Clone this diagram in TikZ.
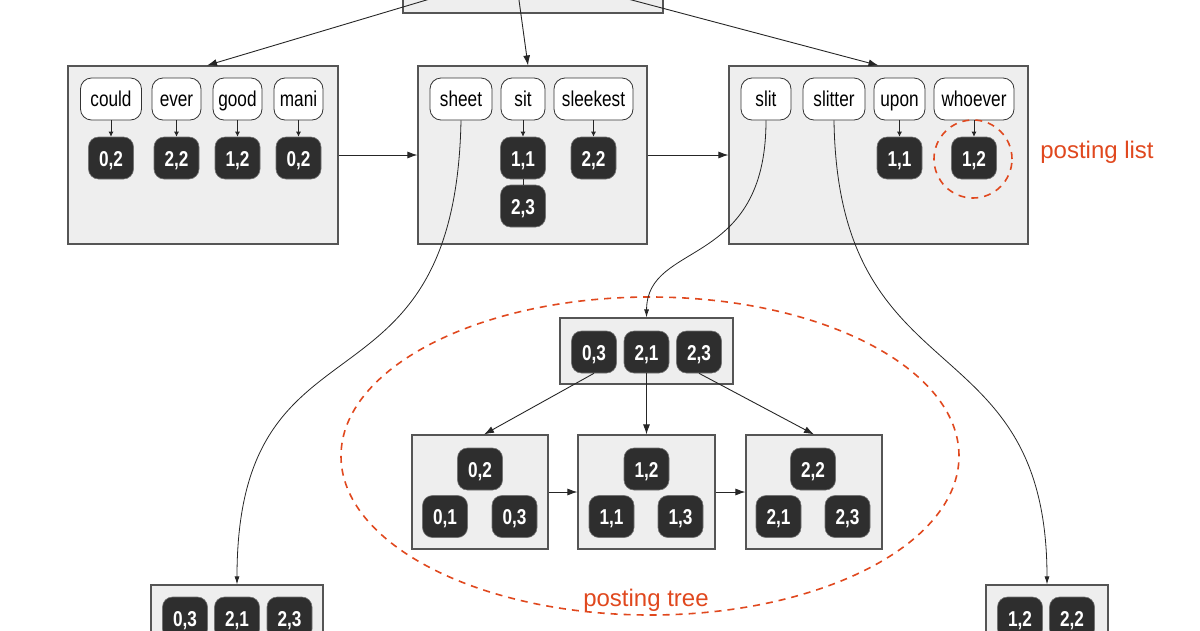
\documentclass[tikz,border=0pt]{standalone}
\usepackage{fontspec}
\setmainfont{Liberation Sans}
\newfontfamily\narrow{Liberation Sans}[FakeStretch=0.8]
\usetikzlibrary{arrows.meta,shapes.geometric}
\definecolor{boxfill}{HTML}{EEEEEE}
\definecolor{boxline}{HTML}{555555}
\definecolor{pfill}{HTML}{2E2E2E}
\definecolor{accent}{HTML}{E0481E}
\begin{document}
\begin{tikzpicture}[x=1pt,y=-1pt,
  pbox/.style={draw=boxline, fill=boxfill, line width=1.1pt, inner sep=0pt},
  keybox/.style={draw=black!80, fill=white, rounded corners=11pt, line width=0.8pt, inner sep=0pt, minimum height=42pt, text height=17pt, text depth=3pt, font=\narrow\fontsize{21.5}{24}\selectfont},
  post/.style={fill=pfill, draw=black!55, line width=0.6pt, rounded corners=10pt, inner sep=0pt, minimum width=45pt, minimum height=42pt, text height=18pt, text depth=2pt, text=white, font=\narrow\bfseries\fontsize{21.5}{24}\selectfont},
  conn/.style={draw=black!85, line width=0.9pt, -{Latex[length=10pt,width=7pt]}},
  smallconn/.style={draw=black!85, line width=0.8pt, -{Latex[length=5pt,width=5pt]}},
  curveconn/.style={draw=black!85, line width=0.8pt, -{Latex[length=8pt,width=5pt]}},
  redmark/.style={draw=accent, line width=1.6pt, dash pattern=on 7pt off 6pt},
  redtext/.style={text=accent, font=\fontsize{24}{28}\selectfont}
]
\clip (0,0) rectangle (1200,630);
\useasboundingbox (0,0) rectangle (1200,630);

% upper level boxes
\node[pbox, minimum width=260pt, minimum height=113pt] (T0) at (533,-43.5) {};
\node[pbox, minimum width=270pt, minimum height=178pt] (A) at (203,155) {};
\node[pbox, minimum width=229pt, minimum height=178pt] (B) at (532.5,155) {};
\node[pbox, minimum width=299pt, minimum height=178pt] (C) at (878.5,155) {};

% off-picture ends of the connectors from the top box
\coordinate (sA) at (460,-10);
\coordinate (sB) at (517.6,-10);
\coordinate (sC) at (594,-10);

% keys
\node[keybox, minimum width=61pt] (could) at (111,99) {could};
\node[keybox, minimum width=49pt] (ever) at (176.5,99) {ever};
\node[keybox, minimum width=49pt] (good) at (237.5,99) {good};
\node[keybox, minimum width=49pt] (mani) at (298.5,99) {mani};
\node[keybox, minimum width=62pt] (sheet) at (461,99) {sheet};
\node[keybox, minimum width=44pt] (sit) at (523,99) {sit};
\node[keybox, minimum width=79pt] (sleekest) at (593.5,99) {sleekest};
\node[keybox, minimum width=50pt] (slit) at (766,99) {slit};
\node[keybox, minimum width=62pt] (slitter) at (834,99) {slitter};
\node[keybox, minimum width=51pt] (upon) at (899.5,99) {upon};
\node[keybox, minimum width=80pt] (whoever) at (974,99) {whoever};

% postings of leaf nodes
\node[post] (pa1) at (111,158) {0,2};
\node[post] (pa2) at (176.5,158) {2,2};
\node[post] (pa3) at (237.5,158) {1,2};
\node[post] (pa4) at (298.5,158) {0,2};
\node[post] (pb1) at (523,158) {1,1};
\node[post] (pb2) at (523,206) {2,3};
\node[post] (pb3) at (593.5,158) {2,2};
\node[post] (pc1) at (899.5,158) {1,1};
\node[post] (pc2) at (974,158) {1,2};

% posting list mark
\node[redmark, circle, minimum size=78pt, inner sep=0pt] (plc) at (973,159) {};
\node[redtext] (pltext) at (1097,152) {posting list};

% posting tree
\node[redmark, ellipse, minimum width=618pt, minimum height=318pt, inner sep=0pt] (pte) at (650,456) {};
\node[redtext] (pttext) at (646,600) {posting tree};

\node[pbox, minimum width=173pt, minimum height=66pt] (R) at (646.5,351) {};
\node[post] (r1) at (594,352) {0,3};
\node[post] (r2) at (646.5,352) {2,1};
\node[post] (r3) at (699,352) {2,3};

\node[pbox, minimum width=136pt, minimum height=114pt] (T1) at (480,492) {};
\node[pbox, minimum width=137pt, minimum height=114pt] (T2) at (646.5,492) {};
\node[pbox, minimum width=136pt, minimum height=114pt] (T3) at (814,492) {};
\node[post] (t11) at (480,469) {0,2};
\node[post] (t12) at (445,516.5) {0,1};
\node[post] (t13) at (514.5,516.5) {0,3};
\node[post] (t21) at (646.5,469) {1,2};
\node[post] (t22) at (611.5,516.5) {1,1};
\node[post] (t23) at (680.5,516.5) {1,3};
\node[post] (t31) at (813,469) {2,2};
\node[post] (t32) at (778.5,516.5) {2,1};
\node[post] (t33) at (847.5,516.5) {2,3};

% bottom boxes
\node[pbox, minimum width=172pt, minimum height=66pt] (BL) at (237,618) {};
\node[post] (bl1) at (185,618) {0,3};
\node[post] (bl2) at (237,618) {2,1};
\node[post] (bl3) at (289.5,618) {2,3};
\node[pbox, minimum width=122pt, minimum height=66pt] (BR) at (1047,618) {};
\node[post] (br1) at (1020,618) {1,2};
\node[post] (br2) at (1072,618) {2,2};

% connectors
\draw[conn] (sA) -- ([xshift=4pt]A.north);
\draw[conn] (sB) -- ([xshift=-4.5pt]B.north);
\draw[conn] (sC) -- (C.north);
\draw[conn] (A.east) -- (B.west);
\draw[conn] (B.east) -- (C.west);

\foreach \k/\p in {could/pa1, ever/pa2, good/pa3, mani/pa4, sit/pb1, sleekest/pb3, upon/pc1, whoever/pc2}
  \draw[smallconn] (\k.south) -- (\p.north);
\draw[draw=black!85, line width=0.8pt] (pb1.south) -- (pb2.north);

\draw[curveconn] (sheet.south) .. controls (455,430) and (237,300) .. (BL.north);
\draw[curveconn] (slit.south) .. controls (766,270) and (647,240) .. (R.north);
\draw[curveconn] (slitter.south) .. controls (838,400) and (1047,320) .. (BR.north);

\draw[conn] (r1.south) -- ([xshift=4pt]T1.north);
\draw[conn] (r2.south) -- (T2.north);
\draw[conn] (r3.south) -- (T3.north);
\draw[conn] (T1.east) -- (T2.west);
\draw[conn] (T2.east) -- (T3.west);
\end{tikzpicture}
\end{document}
